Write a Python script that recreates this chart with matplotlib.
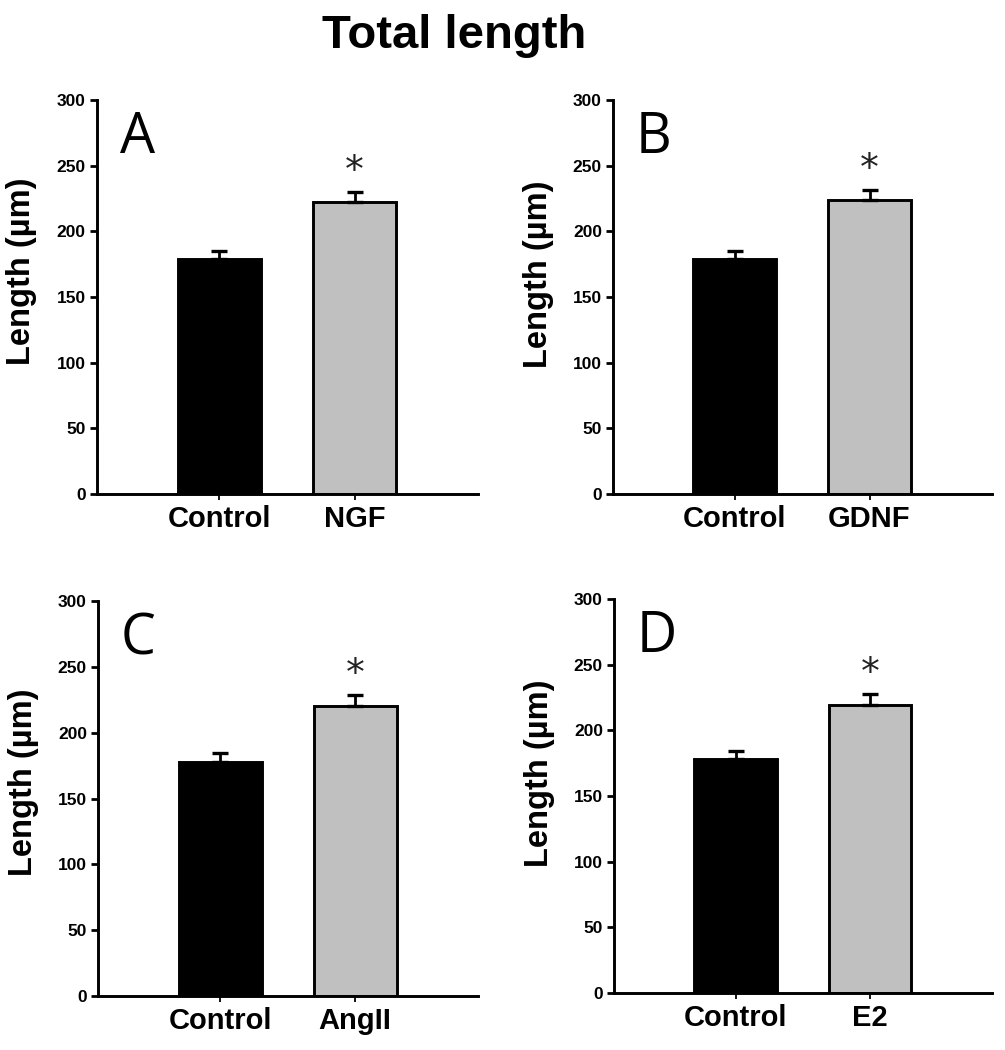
import matplotlib
matplotlib.use("Agg")
import matplotlib.pyplot as plt

# data (mean and SEM, length in um)
panel_letters = ["A", "B", "C", "D"]
treatments = ["NGF", "GDNF", "AngII", "E2"]
control_means = [178.7, 178.8, 178.0, 178.2]
control_sem = [6.0, 6.2, 6.8, 6.3]
treat_means = [222.3, 223.8, 220.5, 219.3]
treat_sem = [7.9, 7.7, 8.5, 8.4]
yticks = [0, 50, 100, 150, 200, 250, 300]

plt.rcParams["font.family"] = ["Liberation Sans", "DejaVu Sans"]

fig = plt.figure(figsize=(10.05, 10.5), dpi=100)

# axes rectangles in figure fraction: [left, bottom, width, height]
rects = [
    [0.0965, 0.5295, 0.3790, 0.3753],
    [0.6100, 0.5295, 0.3771, 0.3753],
    [0.0975, 0.0514, 0.3781, 0.3762],
    [0.6110, 0.0543, 0.3761, 0.3752],
]
ylabel_y = [0.565, 0.557, 0.54, 0.558]

for i in range(4):
    ax = fig.add_axes(rects[i])
    x = [0, 1]
    means = [control_means[i], treat_means[i]]
    sems = [control_sem[i], treat_sem[i]]
    ax.bar(x, means, width=0.615, color=["black", "#c0c0c0"],
           edgecolor="black", linewidth=2.1, zorder=2)
    ax.errorbar(x, means, yerr=[[0, 0], sems], fmt="none", ecolor="black",
                elinewidth=2.0, capsize=6, capthick=2.4, zorder=3)
    # significance star above treated bar
    ax.text(1, treat_means[i] + treat_sem[i] + 15, "*", ha="center",
            va="center", fontsize=27, family="DejaVu Sans", color="#222222")

    ax.set_xlim(-0.905, 1.91)
    ax.set_ylim(0, 300)
    ax.set_yticks(yticks)
    ax.set_yticklabels([str(v) for v in yticks], fontsize=12.5, fontweight="bold")
    ax.set_xticks(x)
    ax.set_xticklabels(["Control", treatments[i]], fontsize=21,
                       fontweight="bold")

    for side in ["top", "right"]:
        ax.spines[side].set_visible(False)
    for side in ["left", "bottom"]:
        ax.spines[side].set_linewidth(2.1)
    ax.tick_params(axis="y", direction="out", length=5, width=2.0, pad=3)
    ax.tick_params(axis="x", direction="out", length=4, width=1.3, pad=4)

    ax.text(-0.197, ylabel_y[i], "Length (\u00b5m)", transform=ax.transAxes,
            rotation=90, ha="center", va="center", fontsize=23.5,
            fontweight="bold")
    ax.text(0.06, 0.865, panel_letters[i], transform=ax.transAxes,
            ha="left", va="baseline", fontsize=40, family="Open Sans")

fig.text(0.452, 0.954, "Total length", ha="center", va="baseline",
         fontsize=34, fontweight="bold")

fig.savefig("out.png", dpi=100)
